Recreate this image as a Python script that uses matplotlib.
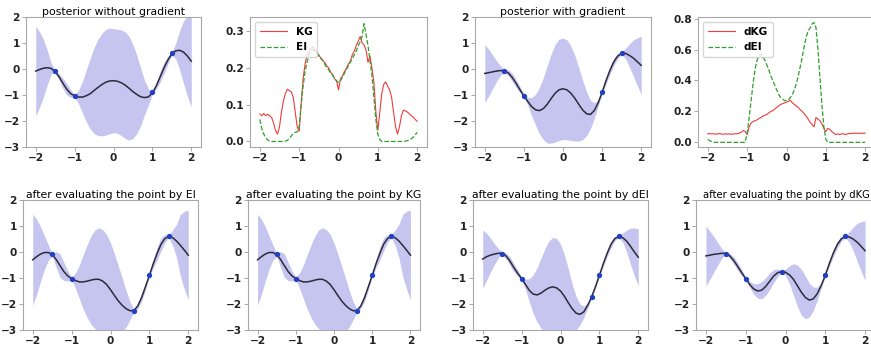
import numpy as np
import matplotlib.pyplot as plt

# grids the values were read on
x_gp = np.linspace(-2, 2, 41)
x_acq = np.linspace(-2, 2, 81)

# observed points (shared by all GP panels)
obs_x = [-1.5, -1.0, 1.0, 1.5]
obs_y = [-0.08, -1.02, -0.9, 0.6]

# next point chosen by each acquisition
new_ei = (0.6, -2.25)
new_kg = (0.6, -2.25)
new_dei = (0.8, -1.73)
new_dkg = (-0.1, -0.76)

# posterior without gradient
mean_plain = [-0.08, -0.02, 0.03, 0.05, 0.02, -0.1, -0.3, -0.55, -0.78, -0.95,
              -1.03, -1.08, -1.08, -1.03, -0.95, -0.83, -0.71, -0.6, -0.51, -0.46,
              -0.45, -0.47, -0.53, -0.62, -0.74, -0.87, -0.98, -1.07, -1.1, -1.07,
              -0.92, -0.65, -0.3, 0.05, 0.35, 0.58, 0.7, 0.72, 0.65, 0.5,
              0.3]
sd_plain = [1.72, 1.45, 1.1, 0.65, 0.2, 0.05, 0.12, 0.2, 0.22, 0.14,
            0.05, 0.25, 0.6, 1.0, 1.35, 1.65, 1.85, 1.97, 2.03, 2.03,
            2.0, 2.0, 2.03, 2.05, 2.0, 1.8, 1.5, 1.1, 0.65, 0.3,
            0.05, 0.12, 0.2, 0.22, 0.15, 0.05, 0.3, 0.75, 1.2, 1.55,
            1.75]

# posterior with gradient
mean_grad = [-0.17, -0.14, -0.11, -0.08, -0.06, -0.07, -0.15, -0.32, -0.55, -0.8,
             -1.03, -1.25, -1.45, -1.57, -1.6, -1.52, -1.35, -1.13, -0.93, -0.8,
             -0.76, -0.8, -0.93, -1.12, -1.35, -1.57, -1.72, -1.75, -1.6, -1.3,
             -0.9, -0.45, -0.05, 0.28, 0.5, 0.6, 0.6, 0.52, 0.42, 0.28,
             0.14]
sd_grad = [1.12, 0.9, 0.65, 0.4, 0.18, 0.05, 0.12, 0.16, 0.16, 0.12,
           0.05, 0.15, 0.35, 0.6, 0.9, 1.2, 1.5, 1.72, 1.88, 1.95,
           1.95, 1.92, 1.82, 1.65, 1.42, 1.15, 0.85, 0.55, 0.3, 0.12,
           0.05, 0.12, 0.15, 0.14, 0.1, 0.05, 0.2, 0.45, 0.7, 0.92,
           1.12]

# after EI (KG picked the same point)
mean_ei = [-0.3, -0.18, -0.08, -0.02, -0.02, -0.1, -0.28, -0.52, -0.75, -0.92,
           -1.02, -1.1, -1.15, -1.15, -1.12, -1.08, -1.05, -1.05, -1.12, -1.25,
           -1.45, -1.67, -1.88, -2.05, -2.18, -2.26, -2.25, -2.08, -1.75, -1.33,
           -0.9, -0.45, -0.05, 0.3, 0.52, 0.6, 0.55, 0.42, 0.25, 0.07,
           -0.12]
sd_ei = [1.75, 1.45, 1.05, 0.65, 0.3, 0.05, 0.3, 0.45, 0.35, 0.2,
         0.05, 0.3, 0.65, 1.05, 1.4, 1.7, 1.9, 1.98, 1.98, 1.92,
         1.8, 1.6, 1.35, 1.05, 0.7, 0.35, 0.05, 0.1, 0.15, 0.12,
         0.05, 0.15, 0.25, 0.25, 0.15, 0.05, 0.3, 0.65, 1.2, 1.5,
         1.73]
mean_kg = mean_ei
sd_kg = sd_ei

# after dEI
mean_dei = [-0.27, -0.18, -0.12, -0.08, -0.05, -0.05, -0.15, -0.35, -0.6, -0.82,
            -1.02, -1.25, -1.48, -1.62, -1.65, -1.58, -1.47, -1.38, -1.34, -1.38,
            -1.5, -1.7, -1.95, -2.18, -2.35, -2.4, -2.3, -2.05, -1.73, -1.33,
            -0.9, -0.45, -0.05, 0.3, 0.52, 0.6, 0.55, 0.42, 0.22, 0.0,
            -0.2]
sd_dei = [1.12, 0.9, 0.65, 0.4, 0.18, 0.05, 0.12, 0.16, 0.16, 0.12,
          0.05, 0.2, 0.45, 0.75, 1.05, 1.35, 1.6, 1.8, 1.9, 1.9,
          1.8, 1.6, 1.3, 0.95, 0.65, 0.4, 0.22, 0.1, 0.04, 0.06,
          0.04, 0.1, 0.13, 0.12, 0.08, 0.04, 0.18, 0.42, 0.7, 0.92,
          1.1]

# after dKG
mean_dkg = [-0.15, -0.12, -0.09, -0.07, -0.05, -0.06, -0.15, -0.33, -0.56, -0.8,
            -1.02, -1.25, -1.42, -1.5, -1.47, -1.33, -1.13, -0.93, -0.8, -0.75,
            -0.78, -0.88, -1.05, -1.3, -1.55, -1.75, -1.85, -1.8, -1.6, -1.28,
            -0.9, -0.45, -0.05, 0.28, 0.5, 0.6, 0.58, 0.5, 0.38, 0.22,
            0.05]
sd_dkg = [1.15, 0.92, 0.68, 0.42, 0.18, 0.04, 0.1, 0.14, 0.15, 0.12,
          0.04, 0.12, 0.2, 0.28, 0.33, 0.34, 0.32, 0.25, 0.15, 0.04,
          0.12, 0.35, 0.6, 0.8, 0.88, 0.82, 0.65, 0.45, 0.25, 0.1,
          0.04, 0.1, 0.14, 0.13, 0.09, 0.04, 0.2, 0.45, 0.72, 0.95,
          1.15]

# acquisition values (step 0.05)
kg_vals = [0.075, 0.07, 0.076, 0.07, 0.074, 0.07, 0.065, 0.05, 0.03, 0.02,
           0.04, 0.08, 0.11, 0.13, 0.142, 0.138, 0.135, 0.12, 0.08, 0.04,
           0.028, 0.1, 0.17, 0.21, 0.235, 0.245, 0.252, 0.258, 0.248, 0.242,
           0.232, 0.228, 0.22, 0.215, 0.205, 0.2, 0.188, 0.182, 0.17, 0.165,
           0.14, 0.17, 0.178, 0.19, 0.198, 0.21, 0.218, 0.235, 0.245, 0.26,
           0.272, 0.285, 0.268, 0.262, 0.248, 0.215, 0.232, 0.2, 0.16, 0.08,
           0.03, 0.08, 0.13, 0.155, 0.162, 0.15, 0.14, 0.12, 0.08, 0.04,
           0.02, 0.04, 0.07, 0.085, 0.083, 0.08, 0.075, 0.07, 0.066, 0.06,
           0.055]
ei_vals = [0.06, 0.035, 0.02, 0.01, 0.004, 0.001, 0.0, 0.0, 0.0, 0.0,
           0.0, 0.0, 0.0, 0.001, 0.003, 0.008, 0.015, 0.022, 0.025, 0.026,
           0.04, 0.1, 0.15, 0.19, 0.215, 0.235, 0.245, 0.25, 0.245, 0.24,
           0.235, 0.225, 0.22, 0.21, 0.2, 0.195, 0.185, 0.18, 0.17, 0.165,
           0.16, 0.165, 0.175, 0.185, 0.195, 0.205, 0.215, 0.225, 0.235, 0.245,
           0.26, 0.27, 0.285, 0.32, 0.29, 0.26, 0.22, 0.18, 0.12, 0.06,
           0.02, 0.005, 0.0, 0.0, 0.0, 0.0, 0.0, 0.0, 0.0, 0.0,
           0.0, 0.0, 0.0, 0.0, 0.001, 0.002, 0.004, 0.007, 0.012, 0.018,
           0.025]
dkg_vals = [0.055, 0.057, 0.054, 0.056, 0.053, 0.055, 0.057, 0.054, 0.052, 0.055,
            0.053, 0.055, 0.052, 0.054, 0.056, 0.055, 0.06, 0.066, 0.076, 0.07,
            0.05, 0.1, 0.125, 0.135, 0.14, 0.145, 0.155, 0.16, 0.17, 0.175,
            0.18, 0.19, 0.2, 0.205, 0.215, 0.225, 0.235, 0.245, 0.25, 0.255,
            0.26, 0.265, 0.272, 0.255, 0.245, 0.235, 0.225, 0.21, 0.2, 0.185,
            0.17, 0.15, 0.13, 0.115, 0.1, 0.16, 0.15, 0.14, 0.12, 0.09,
            0.07, 0.09, 0.085, 0.07, 0.06, 0.05, 0.055, 0.05, 0.055, 0.055,
            0.05, 0.055, 0.058, 0.056, 0.06, 0.058, 0.06, 0.057, 0.06, 0.058,
            0.06]
dei_vals = [0.02, 0.01, 0.005, 0.002, 0.0, 0.0, 0.0, 0.0, 0.0, 0.0,
            0.0, 0.0, 0.0, 0.0, 0.0, 0.0, 0.0, 0.0, 0.0, 0.0,
            0.06, 0.16, 0.27, 0.38, 0.47, 0.53, 0.56, 0.57, 0.555, 0.53,
            0.5, 0.47, 0.43, 0.4, 0.37, 0.34, 0.31, 0.29, 0.28, 0.27,
            0.27, 0.275, 0.29, 0.31, 0.34, 0.38, 0.43, 0.49, 0.55, 0.62,
            0.68, 0.72, 0.74, 0.765, 0.775, 0.74, 0.6, 0.42, 0.24, 0.1,
            0.02, 0.0, 0.0, 0.0, 0.0, 0.0, 0.0, 0.0, 0.0, 0.0,
            0.0, 0.0, 0.0, 0.0, 0.0, 0.0, 0.0, 0.0, 0.0, 0.0,
            0.0]

BAND = '#c5c5f0'
MEAN = '#2b2b3a'
PT = '#2340c4'
W, H = 871, 345


def px_axes(fig, left, top, right, bottom):
    # axes placed from pixel edges of the reference
    return fig.add_axes([left / W, 1 - bottom / H, (right - left) / W, (bottom - top) / H])


def style(ax):
    for s in ax.spines.values():
        s.set_color('#a8a8a8')
        s.set_linewidth(0.8)
    ax.tick_params(labelsize=7.6, colors='#222222', length=3, width=0.6, pad=1.5)
    ax.tick_params(color='#999999')
    ax.set_xlim(-2.25, 2.25)
    ax.set_xticks([-2, -1, 0, 1, 2])
    for lbl in ax.get_xticklabels() + ax.get_yticklabels():
        lbl.set_fontweight('bold')


def gp_panel(ax, mean, sd, title, extra=None):
    mean = np.array(mean)
    sd = np.array(sd)
    ax.fill_between(x_gp, mean - sd, mean + sd, color=BAND, lw=0)
    ax.plot(x_gp, mean, color=MEAN, lw=1.1)
    px, py = list(obs_x), list(obs_y)
    if extra is not None:
        px.append(extra[0])
        py.append(extra[1])
    ax.plot(px, py, 'o', color=PT, ms=2.8)
    ax.set_ylim(-3, 2)
    ax.set_yticks([-3, -2, -1, 0, 1, 2])
    ax.set_title(title, fontsize=7.8, pad=1.5)
    style(ax)


def acq_panel(ax, red, green, names, ylim, yticks):
    ax.plot(x_acq, red, color='#ee3b3b', lw=0.8, label=names[0])
    ax.plot(x_acq, green, color='#2ca02c', lw=0.9, ls='--', label=names[1])
    ax.set_ylim(*ylim)
    ax.set_yticks(yticks)
    leg = ax.legend(loc='upper left', prop={'weight': 'bold', 'size': 7.6},
                    handlelength=2.6, borderpad=0.45, labelspacing=0.5)
    leg.get_frame().set_edgecolor('#cccccc')
    style(ax)


fig = plt.figure(figsize=(W / 100, H / 100), dpi=100)

ax1 = px_axes(fig, 26, 17, 201, 147)
gp_panel(ax1, mean_plain, sd_plain, 'posterior without gradient')

ax2 = px_axes(fig, 250, 17, 427, 147)
acq_panel(ax2, kg_vals, ei_vals, ['KG', 'EI'], (-0.015, 0.338), [0.0, 0.1, 0.2, 0.3])

ax3 = px_axes(fig, 475, 17, 651, 147)
gp_panel(ax3, mean_grad, sd_grad, 'posterior with gradient')

ax4 = px_axes(fig, 698, 17, 875, 147)
acq_panel(ax4, dkg_vals, dei_vals, ['dKG', 'dEI'], (-0.03, 0.81), [0.0, 0.2, 0.4, 0.6, 0.8])

# bottom row: posterior after adding the chosen point
ax5 = px_axes(fig, 23, 200, 198, 330)
gp_panel(ax5, mean_ei, sd_ei, 'after evaluating the point by EI', new_ei)

ax6 = px_axes(fig, 248, 200, 420, 330)
gp_panel(ax6, mean_kg, sd_kg, 'after evaluating the point by KG', new_kg)

ax7 = px_axes(fig, 473, 200, 648, 330)
gp_panel(ax7, mean_dei, sd_dei, 'after evaluating the point by dEI', new_dei)

ax8 = px_axes(fig, 696, 200, 875, 330)
gp_panel(ax8, mean_dkg, sd_dkg, 'after evaluating the point by dKG', new_dkg)
# keep the last title inside the figure edge and clear of the "2" label
ax8.title.set_fontsize(7.2)
ax8.title.set_horizontalalignment('right')
ax8.title.set_x((870 - 696) / (875 - 696))

fig.savefig('out.png', dpi=100)
